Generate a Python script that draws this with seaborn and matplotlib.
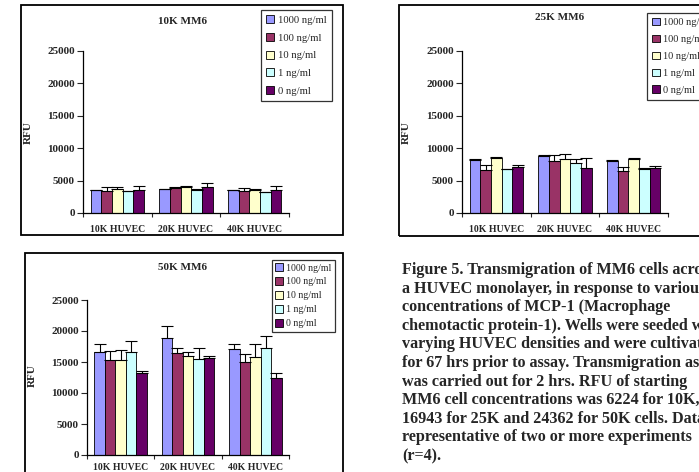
import matplotlib
matplotlib.use("Agg")
import matplotlib.pyplot as plt
import seaborn as sns
import pandas as pd
import numpy as np
from matplotlib.patches import Rectangle

# ---------------- data ----------------
categories = ["10K HUVEC", "20K HUVEC", "40K HUVEC"]
concentrations = ["1000 ng/ml", "100 ng/ml", "10 ng/ml", "1 ng/ml", "0 ng/ml"]
colors = ["#9999FF", "#993366", "#FFFFCC", "#CCFFFF", "#660066"]

# rows = HUVEC density, columns = MCP-1 concentration
mm6_10k_mean = [[3550, 3450, 3700, 3350, 3550],
                [3650, 3900, 4050, 3600, 4050],
                [3550, 3400, 3600, 3250, 3550]]
mm6_10k_err = [[50, 500, 250, 50, 600],
               [50, 80, 150, 50, 650],
               [50, 400, 100, 50, 650]]

mm6_25k_mean = [[8150, 6650, 8450, 6800, 7150],
                [8750, 8100, 8300, 7700, 7000],
                [8050, 6550, 8300, 6800, 7000]]
mm6_25k_err = [[200, 750, 200, 50, 200],
               [150, 870, 770, 600, 1480],
               [60, 500, 250, 80, 200]]

mm6_50k_mean = [[16550, 15250, 15400, 16650, 13150],
                [18850, 16400, 15900, 15500, 15600],
                [17050, 15000, 15850, 17200, 12450]]
mm6_50k_err = [[1400, 1600, 1600, 1800, 320],
               [2000, 800, 750, 1700, 430],
               [800, 1250, 2000, 2050, 850]]

panel_titles = ["10K MM6", "25K MM6", "50K MM6"]
y_ticks = [0, 5000, 10000, 15000, 20000, 25000]

caption_lines = [
    "Figure 5. Transmigration of MM6 cells across",
    "a HUVEC monolayer, in response to various",
    "concentrations of MCP-1 (Macrophage",
    "chemotactic protein-1). Wells were seeded with",
    "varying HUVEC densities and were cultivated",
    "for 67 hrs prior to assay. Transmigration assay",
    "was carried out for 2 hrs. RFU of starting",
    "MM6 cell concentrations was 6224 for 10K,",
    "16943 for 25K and 24362 for 50K cells. Data",
    "representative of two or more experiments",
    "(r=4).",
]

# ---------------- style ----------------
sns.set_style("ticks")
plt.rcParams["font.family"] = ["Liberation Serif", "DejaVu Serif"]

W, H = 699, 472
fig = plt.figure(figsize=(W / 100, H / 100), dpi=100)
fig.patch.set_facecolor("white")


def fx(x):
    return x / W


def fy(y):
    return 1 - y / H


def make_df(means, errs):
    rows = []
    for ci, cat in enumerate(categories):
        for hi, conc in enumerate(concentrations):
            rows.append({"HUVEC": cat, "MCP1": conc,
                         "RFU": means[ci][hi], "err": errs[ci][hi]})
    return pd.DataFrame(rows)


panels = [
    dict(mean=mm6_10k_mean, err=mm6_10k_err, title=panel_titles[0],
         box=(83, 289, 51, 213), frame=(21, 5, 343, 235),
         tpos=(182, 22), ypos=(33, 133), lpos=(261, 10), xpad=9,
         lfont=7.7, lspace=0.75, lpad=0.5),
    dict(mean=mm6_25k_mean, err=mm6_25k_err, title=panel_titles[1],
         box=(462, 668, 51, 213), frame=(399, 5, 760, 236),
         tpos=(560, 18), ypos=(411, 133), lpos=(647, 13), xpad=9,
         lfont=7.5, lspace=0.72, lpad=0.45),
    dict(mean=mm6_50k_mean, err=mm6_50k_err, title=panel_titles[2],
         box=(87, 289, 300, 455), frame=(25, 253, 343, 520),
         tpos=(183, 268), ypos=(37, 376), lpos=(272, 260), xpad=6,
         lfont=7.1, lspace=0.5, lpad=0.35),
]

for p in panels:
    x0, y0, x1, y1 = p["frame"]
    fig.patches.append(Rectangle((fx(x0), fy(y1)), (x1 - x0) / W, (y1 - y0) / H,
                                 transform=fig.transFigure, fill=False,
                                 edgecolor="black", linewidth=1.3, zorder=0))

    l, r, t, b = p["box"]
    ax = fig.add_axes([fx(l), fy(b), (r - l) / W, (b - t) / H])
    ax.set_facecolor("none")
    df = make_df(p["mean"], p["err"])
    sns.barplot(data=df, x="HUVEC", y="RFU", hue="MCP1",
                order=categories, hue_order=concentrations,
                palette=colors, saturation=1, width=0.78,
                edgecolor="black", linewidth=0.6, errorbar=None,
                legend=True, ax=ax)

    for cont, conc in zip(ax.containers, concentrations):
        sub = df[df["MCP1"] == conc].set_index("HUVEC").loc[categories]
        xs = [bar.get_x() + bar.get_width() / 2 for bar in cont]
        ys = sub["RFU"].values
        e = sub["err"].values
        ax.errorbar(xs, ys, yerr=[np.zeros_like(e), e], fmt="none",
                    ecolor="black", elinewidth=0.8, capsize=4,
                    capthick=0.8, zorder=5)

    ax.set_ylim(0, 25000)
    ax.set_xlim(-0.5, 2.5)
    ax.set_yticks(y_ticks)
    ax.set_yticklabels([str(v) for v in y_ticks], fontsize=8, fontweight="bold")
    ax.set_xticks(range(len(categories)))
    ax.set_xticklabels(categories, fontsize=7, fontweight="bold")
    ax.set_xticks([-0.5, 0.5, 1.5, 2.5], minor=True)
    ax.tick_params(axis="x", which="major", length=0, pad=p["xpad"])
    ax.tick_params(axis="x", which="minor", length=3, width=0.8, direction="out")
    ax.tick_params(axis="y", length=4, width=0.8, direction="out", pad=2)
    for s in ["top", "right"]:
        ax.spines[s].set_visible(False)
    for s in ["left", "bottom"]:
        ax.spines[s].set_linewidth(0.9)
        ax.spines[s].set_color("black")
    ax.set_xlabel("")
    ax.set_ylabel("RFU", fontsize=8, fontweight="bold")
    ax.yaxis.set_label_coords(fx(p["ypos"][0]), fy(p["ypos"][1]),
                              transform=fig.transFigure)

    fig.text(fx(p["tpos"][0]), fy(p["tpos"][1]), p["title"], ha="center",
             va="center", fontsize=8, fontweight="bold")

    handles, labels = ax.get_legend_handles_labels()
    leg = ax.legend(handles, labels, loc="upper left",
                    bbox_to_anchor=(fx(p["lpos"][0]), fy(p["lpos"][1])),
                    bbox_transform=fig.transFigure, frameon=True,
                    fancybox=False, shadow=False, fontsize=p["lfont"],
                    handlelength=0.75, handleheight=0.75, handletextpad=0.35,
                    labelspacing=p["lspace"], borderpad=p["lpad"],
                    borderaxespad=0)
    leg.get_frame().set_edgecolor("black")
    leg.get_frame().set_linewidth(0.9)
    for h in leg.legend_handles:
        h.set_edgecolor("black")
        h.set_linewidth(0.6)

for i, line in enumerate(caption_lines):
    fig.text(fx(402), fy(270 + i * 18.6), line, ha="left", va="center",
             fontsize=11.6, fontweight="bold")

fig.savefig("out.png", dpi=100, facecolor="white")
